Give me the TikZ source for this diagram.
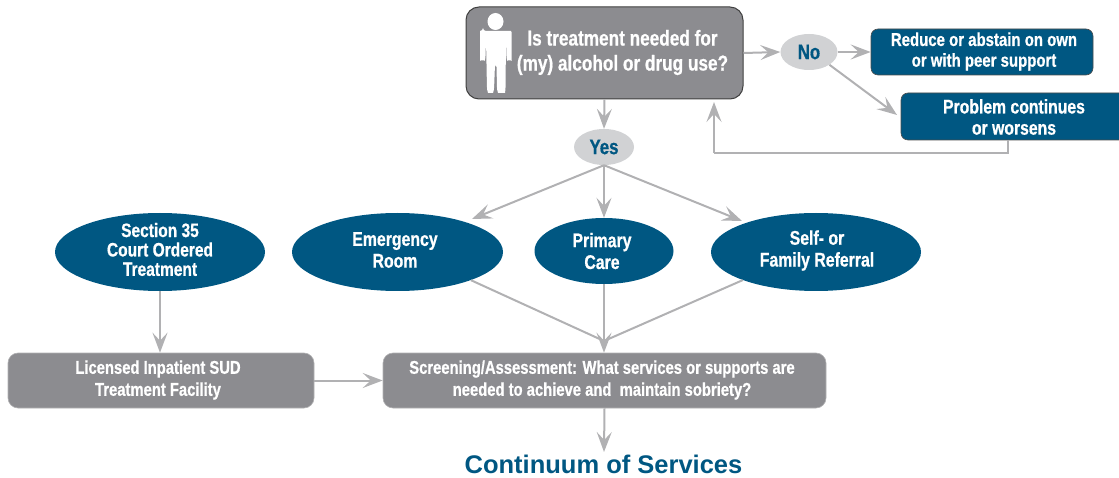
\documentclass[tikz,border=0pt]{standalone}
\usepackage{fontspec}
\setmainfont{Liberation Sans}
\newfontfamily\narrowf[FakeStretch=0.8,BoldFeatures={FakeStretch=0.8,FakeBold=0.7}]{Liberation Sans}
\usetikzlibrary{arrows.meta,shapes.geometric}
\definecolor{boxgray}{HTML}{8C8C90}
\definecolor{navy}{HTML}{005782}
\definecolor{pale}{HTML}{D1D2D4}
\definecolor{linegray}{HTML}{B1B1B3}
\tikzset{
  lbl/.style={font=\narrowf\bfseries\fontsize{#1}{#1}\selectfont,text=white,align=center,inner sep=0pt},
  graybox/.style={rectangle,rounded corners=10pt,fill=boxgray,draw=linegray,line width=.6pt,inner sep=0pt},
  bluebox/.style={rectangle,rounded corners=7pt,fill=navy,draw=black!70,line width=.6pt,inner sep=0pt},
  oval/.style={ellipse,fill=navy,inner sep=0pt},
  choice/.style={ellipse,fill=pale,inner sep=0pt,text=navy,font=\narrowf\bfseries\fontsize{21}{21}\selectfont},
  link/.style={draw=linegray,line width=2pt},
  arr/.style={link,-{Stealth[length=20pt,width=15pt,inset=8pt,fill=linegray]}},
}
\begin{document}
\begin{tikzpicture}[x=1pt,y=-1pt]
\useasboundingbox (0,0) rectangle (1119,478);
% boxes
\node[graybox,draw=black!75,line width=1pt,rounded corners=13pt,minimum width=277pt,minimum height=92pt] (main) at (604.5,53) {};
\node[lbl=21.5] (maint) at (622.5,52.5) {Is treatment needed for\\[3.5pt](my) alcohol or drug use?};
\node[choice,minimum width=57pt,minimum height=36pt] (no) at (809,52) {No};
\node[choice,minimum width=60pt,minimum height=36pt] (yes) at (604,147) {Yes};
\node[bluebox,minimum width=222pt,minimum height=46pt] (reduce) at (982,52) {};
\node[lbl=18.7] (reducet) at (984,51.5) {Reduce or abstain on own\\[2pt]or with peer support};
\node[bluebox,minimum width=226pt,minimum height=47pt] (problem) at (1014,116.5) {};
\node[lbl=19.7] (problemt) at (1014,117) {Problem continues\\[1.5pt]or worsens};
\node[oval,minimum width=210pt,minimum height=78pt] (sec) at (160,252) {};
\node[lbl=19.4] (sect) at (160,249.5) {Section 35\\Court Ordered\\Treatment};
\node[oval,minimum width=211pt,minimum height=78pt] (er) at (397.5,252) {};
\node[lbl=19.8] (ert) at (395,250) {Emergency\\[2pt]Room};
\node[oval,minimum width=139pt,minimum height=66pt] (pc) at (604,251) {};
\node[lbl=19.8] (pct) at (602,251) {Primary\\[2pt]Care};
\node[oval,minimum width=210pt,minimum height=78pt] (self) at (816,252) {};
\node[lbl=19.8] (selft) at (817,250.5) {Self- or\\[2pt]Family Referral};
\node[graybox,minimum width=306pt,minimum height=55pt] (inp) at (161,380.5) {};
\node[lbl=18.5] (inpt) at (158,380) {Licensed Inpatient SUD\\[3.5pt]Treatment Facility};
\node[graybox,minimum width=443pt,minimum height=55pt] (scr) at (604.5,380.5) {};
\node[lbl=18.5] (scrt) at (602,380) {Screening/Assessment: What services or supports are\\[3.5pt]needed to achieve and\ \ maintain sobriety?};
\node[font=\bfseries\fontsize{25.5}{25.5}\selectfont,text=navy,inner sep=0pt] (title) at (603.5,464.5) {Continuum of Services};
% person
\fill[white] (495.5,21.5) circle[x radius=8pt,y radius=8.5pt];
\fill[white,rounded corners=3pt] (483,31) -- (508,31) .. controls (511,31) and (511.5,33) .. (511.5,35) -- (511.5,58) .. controls (511.5,60) and (507,60) .. (506.5,58) -- (506,38) -- (505.5,90) .. controls (505,93) and (498,93) .. (497,90) -- (496.5,64) -- (495,64) -- (494,90) .. controls (493,93) and (488,93) .. (487,90) -- (486,38) -- (485.5,58) .. controls (485,60) and (480,60) .. (480,58) -- (480,35) .. controls (480,33) and (481,31) .. (483,31) -- cycle;
% helpers
\coordinate (merge) at (604,341);
\coordinate (corner1) at (1008,153);
\coordinate (corner2) at (714,153);
\coordinate (pIn) at (897,115);
\coordinate (pOut) at (1008,140);
\coordinate (mIn) at (714,102);
\coordinate (erIn) at (472,219);
\coordinate (selfIn) at (742,221);
\coordinate (tIn) at (604,452);
% connectors
\draw[arr] (main.south) -- (yes.north);
\draw[arr] (main.east) -- (no.west);
\draw[arr] (no.east) -- (reduce.west);
\draw[arr] (no.-32) -- (pIn);
\draw[link] (pOut) -- (corner1) -- (corner2);
\draw[arr] (corner2) -- (mIn);
\draw[arr] (yes.south) -- (erIn);
\draw[arr] (yes.south) -- (pc.north);
\draw[arr] (yes.south) -- (selfIn);
\draw[link] (er.-21) -- (merge);
\draw[link] (self.-159) -- (merge);
\draw[arr] (pc.south) -- (scr.north -| pc.south);
\draw[arr] (sec.south) -- (inp.north -| sec.south);
\draw[arr] (inp.east) -- (scr.west);
\draw[arr] (scr.south) -- (tIn);
\end{tikzpicture}
\end{document}
